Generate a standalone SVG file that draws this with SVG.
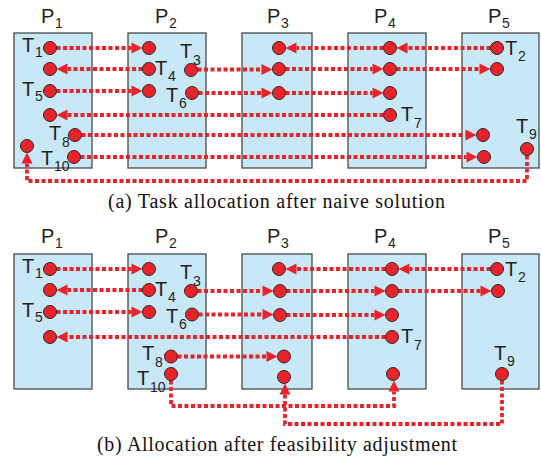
<svg xmlns="http://www.w3.org/2000/svg" width="541" height="466" viewBox="0 0 541 466">
<style>
.box{fill:#c8e7f7;stroke:#4a4a4a;stroke-width:1.3}
.t{fill:#e8232a;stroke:#2a2a2a;stroke-width:1}
.c{fill:none;stroke:#e8232a;stroke-width:3.8;stroke-dasharray:4 2.5}
.a{marker-end:url(#ah)}
.lb{font-family:"Liberation Sans",Arial,sans-serif;font-size:20px;fill:#231f20}
.lb tspan{font-size:14px}
.cap{font-family:"Liberation Serif","Times New Roman",serif;font-size:20px;fill:#111}
</style>
<defs>
<marker id="ah" markerUnits="userSpaceOnUse" markerWidth="11" markerHeight="11" refX="0" refY="5.5" orient="auto" overflow="visible">
<path d="M0,0 L11,5.5 L0,11 z" fill="#e8232a"/>
</marker>
</defs>
<rect width="541" height="466" fill="#fff"/>

<!-- Panel (a) processors -->
<g id="a-P1"><rect class="box" x="14" y="33" width="78" height="135"/><text class="lb" x="41" y="23">P<tspan x="55" y="28">1</tspan></text></g>
<g id="a-P2"><rect class="box" x="128" y="33" width="78" height="135"/><text class="lb" x="155" y="23">P<tspan x="169" y="28">2</tspan></text></g>
<g id="a-P3"><rect class="box" x="242" y="33" width="70" height="135"/><text class="lb" x="267" y="23">P<tspan x="281" y="28">3</tspan></text></g>
<g id="a-P4"><rect class="box" x="348" y="33" width="78" height="135"/><text class="lb" x="374" y="23">P<tspan x="388" y="28">4</tspan></text></g>
<g id="a-P5"><rect class="box" x="462" y="33" width="77" height="135"/><text class="lb" x="488" y="23">P<tspan x="502" y="28">5</tspan></text></g>

<!-- Panel (b) processors -->
<g id="b-P1"><rect class="box" x="14" y="254" width="78" height="135"/><text class="lb" x="41" y="243">P<tspan x="55" y="248">1</tspan></text></g>
<g id="b-P2"><rect class="box" x="128" y="254" width="78" height="135"/><text class="lb" x="155" y="243">P<tspan x="169" y="248">2</tspan></text></g>
<g id="b-P3"><rect class="box" x="242" y="254" width="70" height="135"/><text class="lb" x="267" y="243">P<tspan x="281" y="248">3</tspan></text></g>
<g id="b-P4"><rect class="box" x="348" y="254" width="78" height="135"/><text class="lb" x="374" y="243">P<tspan x="388" y="248">4</tspan></text></g>
<g id="b-P5"><rect class="box" x="462" y="254" width="77" height="135"/><text class="lb" x="488" y="243">P<tspan x="502" y="248">5</tspan></text></g>

<g id="connectors">
<!-- panel a -->
<path class="c a" d="M56.5,48 H131.5"/>
<path class="c a" d="M142.5,69 H67.5"/>
<path class="c a" d="M56.5,91 H131.5"/>
<path class="c a" d="M197.5,69.5 H261.5"/>
<path class="c a" d="M285.5,69 H372.5"/>
<path class="c a" d="M396.5,69 H479.5"/>
<path class="c a" d="M198.5,93 H261.5"/>
<path class="c a" d="M285.5,93 H372.5"/>
<path class="c a" d="M490.5,48 H407.5"/>
<path class="c a" d="M383.5,48 H296.5"/>
<path class="c a" d="M383.5,115 H67.5"/>
<path class="c a" d="M81.5,135 H465.5"/>
<path class="c a" d="M80.5,157 H466.5"/>
<path class="c a" d="M527,155.5 V181 H27 V163.5"/>
<!-- panel b -->
<path class="c a" d="M56.5,269 H131.5"/>
<path class="c a" d="M142.5,290 H67.5"/>
<path class="c a" d="M56.5,312 H131.5"/>
<path class="c a" d="M197.5,291 H262.5"/>
<path class="c a" d="M286.5,291 H374.5"/>
<path class="c a" d="M398.5,291 H480.5"/>
<path class="c a" d="M198.5,314.5 H262.5"/>
<path class="c a" d="M286.5,315 H374.5"/>
<path class="c a" d="M490.5,269 H409.5"/>
<path class="c a" d="M385.5,269 H296.5"/>
<path class="c a" d="M385.5,337 H67.5"/>
<path class="c a" d="M177.5,356.5 H266.5"/>
<path class="c a" d="M171,380.5 V406 H394 V391.5"/>
<path class="c a" d="M502,380.5 V424 H285 V394.5"/>
</g>

<!-- Panel (a) tasks -->
<g id="a-T1"><circle class="t" cx="50" cy="48" r="6.5"/><text class="lb" x="22" y="52">T<tspan x="35" y="57">1</tspan></text></g>
<g id="a-T4src"><circle class="t" cx="149" cy="69" r="6.5"/><text class="lb" x="155" y="75">T<tspan x="168" y="80.5">4</tspan></text></g>
<g id="a-T4"><circle class="t" cx="50" cy="69" r="6.5"/></g>
<g id="a-T5"><circle class="t" cx="50" cy="91" r="6.5"/><text class="lb" x="22" y="96">T<tspan x="35" y="101">5</tspan></text></g>
<g id="a-T7dst"><circle class="t" cx="50" cy="115" r="6.5"/></g>
<g id="a-T8"><circle class="t" cx="75" cy="135" r="6.5"/><text class="lb" x="49" y="140">T<tspan x="62" y="147">8</tspan></text></g>
<g id="a-T10"><circle class="t" cx="74" cy="157" r="6.5"/><text class="lb" x="41" y="165">T<tspan x="54" y="171">10</tspan></text></g>
<g id="a-T9dst"><circle class="t" cx="27" cy="146" r="6.5"/></g>
<g id="a-T1dst"><circle class="t" cx="149" cy="48" r="6.5"/></g>
<g id="a-T5dst"><circle class="t" cx="149" cy="91" r="6.5"/></g>
<g id="a-T3"><circle class="t" cx="191" cy="70" r="6.5"/><text class="lb" x="180" y="58">T<tspan x="193" y="65">3</tspan></text></g>
<g id="a-T6"><circle class="t" cx="192" cy="93" r="6.5"/><text class="lb" x="166" y="102">T<tspan x="179" y="108">6</tspan></text></g>
<g id="a-P3r1"><circle class="t" cx="279" cy="48" r="6.5"/></g>
<g id="a-P3r2"><circle class="t" cx="279" cy="69" r="6.5"/></g>
<g id="a-P3r3"><circle class="t" cx="279" cy="93" r="6.5"/></g>
<g id="a-P4r1"><circle class="t" cx="390" cy="48" r="6.5"/></g>
<g id="a-P4r2"><circle class="t" cx="390" cy="69" r="6.5"/></g>
<g id="a-P4r3"><circle class="t" cx="390" cy="93" r="6.5"/></g>
<g id="a-T7"><circle class="t" cx="390" cy="115" r="6.5"/><text class="lb" x="401" y="121">T<tspan x="414" y="128">7</tspan></text></g>
<g id="a-T2"><circle class="t" cx="497" cy="48" r="6.5"/><text class="lb" x="505" y="55">T<tspan x="518" y="61">2</tspan></text></g>
<g id="a-P5r2"><circle class="t" cx="497" cy="69" r="6.5"/></g>
<g id="a-T8dst"><circle class="t" cx="483" cy="135" r="6.5"/></g>
<g id="a-T10dst"><circle class="t" cx="484" cy="157" r="6.5"/></g>
<g id="a-T9"><circle class="t" cx="527" cy="149" r="6.5"/><text class="lb" x="516" y="133">T<tspan x="529" y="139">9</tspan></text></g>

<!-- Panel (b) tasks -->
<g id="b-T1"><circle class="t" cx="50" cy="269" r="6.5"/><text class="lb" x="22" y="273">T<tspan x="35" y="278">1</tspan></text></g>
<g id="b-T4dst"><circle class="t" cx="50" cy="290" r="6.5"/></g>
<g id="b-T5"><circle class="t" cx="50" cy="312" r="6.5"/><text class="lb" x="22" y="317">T<tspan x="35" y="322">5</tspan></text></g>
<g id="b-T7dst"><circle class="t" cx="50" cy="337" r="6.5"/></g>
<g id="b-T1dst"><circle class="t" cx="149" cy="269" r="6.5"/></g>
<g id="b-T4"><circle class="t" cx="149" cy="290" r="6.5"/><text class="lb" x="155" y="296">T<tspan x="168" y="301.5">4</tspan></text></g>
<g id="b-T5dst"><circle class="t" cx="149" cy="312" r="6.5"/></g>
<g id="b-T3"><circle class="t" cx="191" cy="291" r="6.5"/><text class="lb" x="180" y="279">T<tspan x="193" y="286">3</tspan></text></g>
<g id="b-T6"><circle class="t" cx="192" cy="314.5" r="6.5"/><text class="lb" x="166" y="323">T<tspan x="179" y="329">6</tspan></text></g>
<g id="b-T8"><circle class="t" cx="171" cy="356.5" r="6.5"/><text class="lb" x="142" y="360">T<tspan x="155" y="367">8</tspan></text></g>
<g id="b-T10"><circle class="t" cx="171" cy="374" r="6.5"/><text class="lb" x="137" y="385">T<tspan x="150" y="392">10</tspan></text></g>
<g id="b-P3r1"><circle class="t" cx="279" cy="269" r="6.5"/></g>
<g id="b-P3r2"><circle class="t" cx="280" cy="291" r="6.5"/></g>
<g id="b-P3r3"><circle class="t" cx="280" cy="315" r="6.5"/></g>
<g id="b-T8dst"><circle class="t" cx="284" cy="356.5" r="6.5"/></g>
<g id="b-T9dst"><circle class="t" cx="284" cy="377" r="6.5"/></g>
<g id="b-P4r1"><circle class="t" cx="392" cy="269" r="6.5"/></g>
<g id="b-P4r2"><circle class="t" cx="392" cy="291" r="6.5"/></g>
<g id="b-P4r3"><circle class="t" cx="392" cy="315" r="6.5"/></g>
<g id="b-T7"><circle class="t" cx="392" cy="337" r="6.5"/><text class="lb" x="401" y="343">T<tspan x="414" y="350">7</tspan></text></g>
<g id="b-T10dst"><circle class="t" cx="393" cy="374" r="6.5"/></g>
<g id="b-T2"><circle class="t" cx="497" cy="269" r="6.5"/><text class="lb" x="505" y="276">T<tspan x="518" y="282">2</tspan></text></g>
<g id="b-P5r2"><circle class="t" cx="498" cy="291" r="6.5"/></g>
<g id="b-T9"><circle class="t" cx="502" cy="374" r="6.5"/><text class="lb" x="494" y="360">T<tspan x="507" y="366">9</tspan></text></g>

<text class="cap" x="108" y="208" textLength="337" lengthAdjust="spacing">(a) Task allocation after naive solution</text>
<text class="cap" x="97" y="451" textLength="360" lengthAdjust="spacing">(b) Allocation after feasibility adjustment</text>
</svg>
